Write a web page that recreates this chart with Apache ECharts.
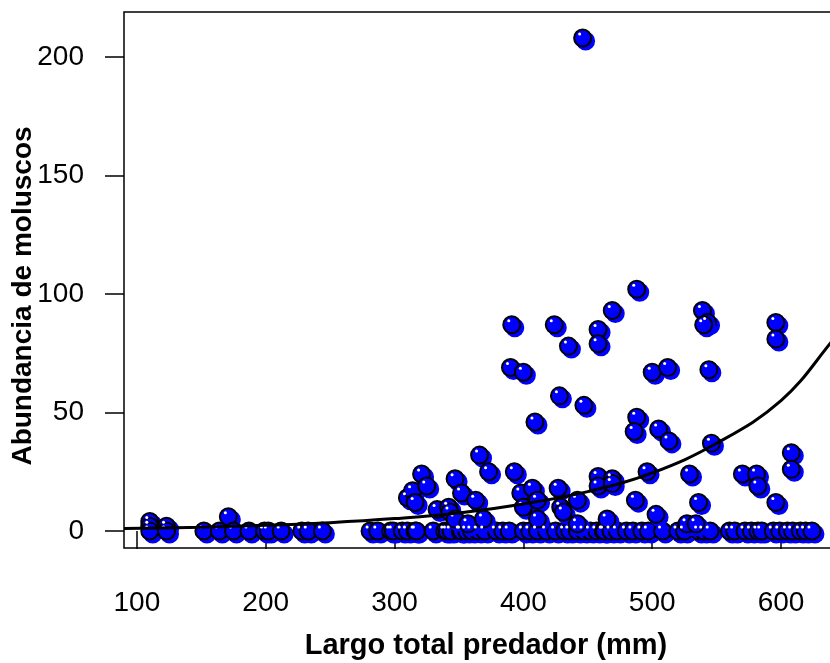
<!DOCTYPE html>
<html>
<head>
<meta charset="utf-8">
<script src="https://cdn.jsdelivr.net/npm/echarts@6/dist/echarts.min.js"></script>
<style>html,body{margin:0;padding:0;background:#fff}#c{width:830px;height:663px}</style>
</head>
<body>
<div id="c"></div>
<script>
// Length (mm) and mollusc abundance
const largo = [110,110,110,123,123,152,164,171,175,187,199,202,212,228,233,244,281,287,297,299,306,310,316,317,330,339,341,344,351,352,356,360,365,370,379,384,389,400,405,411,418,425,432,436,442,447,452,457,462,463,468,473,480,485,492,497,508,520,525,536,540,545,560,564,572,577,582,585,594,599,605,609,615,619,624,
 310,314,316,321,325,333,342,343,347,352,347,357,363,366,369,373,393,398,400,407,411,411,427,429,431,442,442,458,458,465,469,469,487,496,503,527,534,529,536,570,581,582,596,608,608,
 488,469,391,424,458,458,435,539,543,540,596,596,390,400,500,512,544,428,447,409,488,486,505,513,546,446];
const abundancia = [4,2,0,2,0,0,0,6,0,0,0,0,0,0,0,0,0,0,0,0,0,0,0,0,0,0,0,0,0,0,0,0,0,0,0,0,0,0,0,0,0,0,0,0,0,0,0,0,0,0,0,0,0,0,0,0,0,0,0,0,0,0,0,0,0,0,0,0,0,0,0,0,0,0,0,
 14,17,12,24,19,9,10,8,22,16,5,3,13,32,5,25,25,16,10,18,13,5,18,10,8,13,3,23,19,5,22,20,13,25,7,3,3,24,12,24,24,19,12,33,26,
 102,93,87,87,85,79,78,93,88,87,88,81,69,67,67,69,68,57,53,46,48,42,43,38,37,208];
// Fitted curve
const curvaX = [90,150,200,250,300,350,400,450,500,550,600,638,652];
const curvaY = [1.0,1.6,2.4,3.5,5.2,7.6,11.4,16.6,24.5,37,55,79,90];
const xTicks = [100,200,300,400,500,600];
const yTicks = [0,50,100,150,200];

const pts = largo.map((x,i)=>[x,abundancia[i]]);
const curve = curvaX.map((x,i)=>[x,curvaY[i]]);
const font = '"Liberation Sans", Arial, sans-serif';
const chart = echarts.init(document.getElementById('c'), null, {renderer:'canvas'});
chart.setOption({
  animation:false,
  backgroundColor:'#fff',
  grid:{left:124, top:12, width:724, height:536, containLabel:false, outerBoundsMode:'none',
    show:true, borderColor:'#000', borderWidth:1.5, backgroundColor:'transparent'},
  xAxis:{type:'value', min:90, max:652,
    axisLine:{show:false}, splitLine:{show:false},
    axisTick:{show:true, length:18, inside:false, lineStyle:{color:'#000', width:1.5}, customValues:xTicks},
    axisLabel:{customValues:xTicks, margin:41, fontSize:28, color:'#000', fontFamily:font},
    name:'Largo total predador (mm)', nameLocation:'middle', nameGap:83, nameMoveOverlap:false,
    nameTextStyle:{fontSize:29, fontWeight:'bold', color:'#000', fontFamily:font}},
  yAxis:{type:'value', min:-7.2, max:219,
    axisLine:{show:false}, splitLine:{show:false},
    axisTick:{show:true, length:19, lineStyle:{color:'#000', width:1.5}, customValues:yTicks},
    axisLabel:{customValues:yTicks, margin:40, fontSize:28, color:'#000', fontFamily:font},
    name:'Abundancia de moluscos', nameLocation:'middle', nameGap:87, nameMoveOverlap:false,
    nameTextStyle:{fontSize:28, fontWeight:'bold', color:'#000', fontFamily:font, padding:[0,32,0,0]}},
  series:[
    {type:'scatter', data:pts, symbol:'circle', symbolSize:17, z:2,
     itemStyle:{color:'#0000ff', borderColor:'#000', borderWidth:2, opacity:1,
       shadowColor:'#0000ff', shadowOffsetX:3, shadowOffsetY:3, shadowBlur:0}},
    {type:'scatter', data:pts, symbol:'circle', symbolSize:3, symbolOffset:[-3,-4], z:3,
     itemStyle:{color:'#ffffff', opacity:1}},
    {type:'line', data:curve, smooth:0.4, symbol:'none', z:5,
     lineStyle:{color:'#000', width:3}}
  ]
});
</script>
</body>
</html>
